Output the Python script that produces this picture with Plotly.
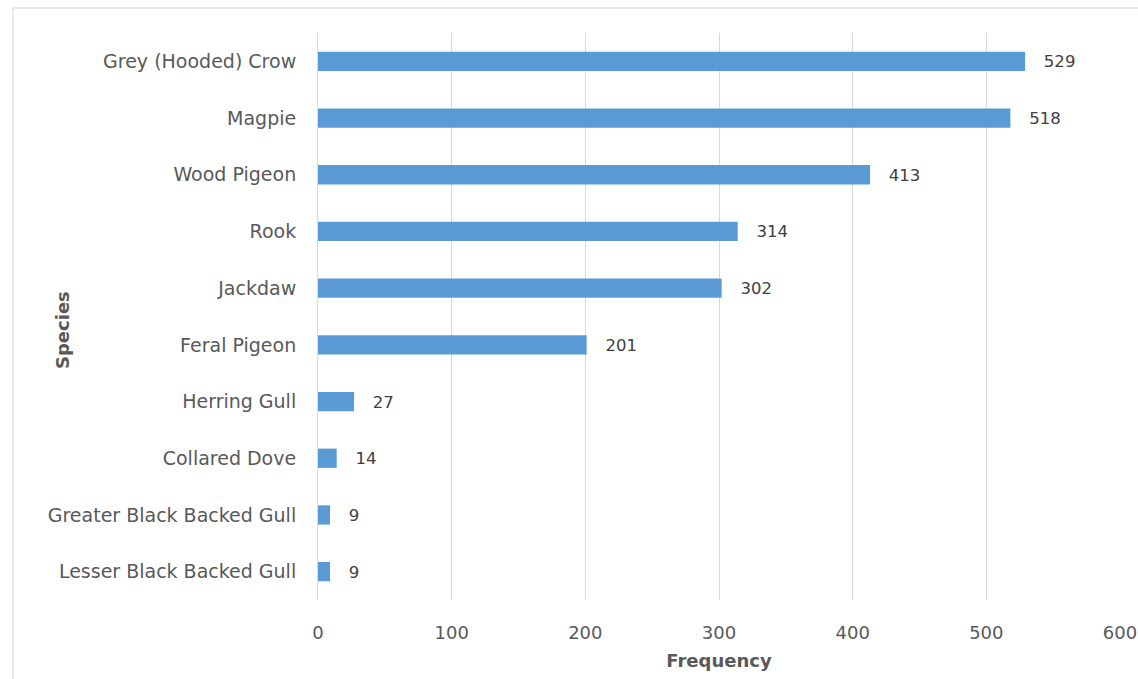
import plotly.graph_objects as go

species = ["Grey (Hooded) Crow", "Magpie", "Wood Pigeon", "Rook", "Jackdaw",
           "Feral Pigeon", "Herring Gull", "Collared Dove",
           "Greater Black Backed Gull", "Lesser Black Backed Gull"]
frequency = [529, 518, 413, 314, 302, 201, 27, 14, 9, 9]
x_ticks = [0, 100, 200, 300, 400, 500, 600]

W, H = 1138, 679
L, R, T, B = 318, 18, 33, 79
pw, ph = W - L - R, H - T - B
FONT = "DejaVu Sans"

fig = go.Figure(go.Bar(
    x=frequency, y=species, orientation="h",
    marker=dict(color="#5b9bd5", line=dict(width=0)),
    width=0.34,
    text=["   " + str(v) for v in frequency], textposition="outside",
    textfont=dict(family=FONT, size=18, color="#404040"),
    cliponaxis=False,
))

fig.update_layout(
    width=W, height=H,
    margin=dict(l=L, r=R, t=T, b=B, autoexpand=False),
    paper_bgcolor="white", plot_bgcolor="white",
    showlegend=False,
    font=dict(family=FONT, size=18, color="#595959"),
    xaxis=dict(range=[0, 600], tickvals=x_ticks, showgrid=True,
               gridcolor="#d9d9d9", gridwidth=1, zeroline=False,
               showline=False, ticks="", ticklen=0, ticklabelstandoff=20,
               automargin=False,
               tickfont=dict(size=18, color="#595959"),
               title=dict(text="<b>Frequency</b>", standoff=12,
                          font=dict(size=18, color="#595959"))),
    yaxis=dict(categoryorder="array", categoryarray=species,
               autorange="reversed", showgrid=False, zeroline=False,
               showline=True, linecolor="#d9d9d9", linewidth=1,
               ticks="", ticklabelstandoff=17, automargin=False,
               tickfont=dict(size=19, color="#595959")),
)

# y-axis title placed like the original
fig.add_annotation(text="<b>Species</b>", xref="paper", yref="paper",
                   x=(62 - L) / pw, y=(H - B - 330) / ph,
                   xanchor="center", yanchor="middle", textangle=-90,
                   showarrow=False, font=dict(family=FONT, size=18, color="#595959"))

# outer chart border (light grey)
fig.add_shape(type="rect", xref="paper", yref="paper",
              x0=(13 - L) / pw, x1=(1160 - L) / pw,
              y0=(H - B - 720) / ph, y1=(H - B - 8) / ph,
              line=dict(color="#e3e3e3", width=1.5), fillcolor="rgba(0,0,0,0)",
              layer="below")

fig.write_html("out.html", config={"displayModeBar": False},
               post_script="document.body.style.margin='0';document.body.style.overflow='hidden';")
